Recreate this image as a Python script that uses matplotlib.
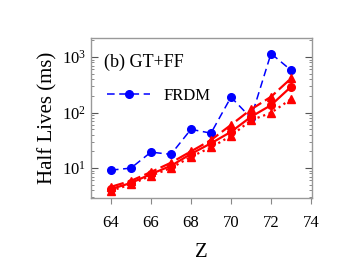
import matplotlib
matplotlib.use("Agg")
import matplotlib.pyplot as plt
from matplotlib.ticker import LogLocator, NullFormatter

plt.rcParams['font.family'] = ['Liberation Serif', 'DejaVu Serif']
plt.rcParams['mathtext.fontset'] = 'custom'
plt.rcParams['mathtext.rm'] = 'Liberation Serif'
plt.rcParams['mathtext.it'] = 'Liberation Serif:italic'

Z = [64, 65, 66, 67, 68, 69, 70, 71, 72, 73]
frdm = [9.2, 10.0, 19.4, 17.7, 50, 42.6, 190, 80, 1160, 580]
red_dashed_tri = [4.6, 5.9, 8.5, 12.5, 20, 32, 60, 114, 193, 413]
red_solid_circ = [4.2, 5.4, 7.8, 11.0, 18, 28, 45, 84, 136, 292]
red_dotted_tri = [3.9, 5.1, 7.3, 10.0, 16, 23.6, 38, 73, 99, 175]

fig = plt.figure(figsize=(3.55, 2.8), dpi=100)
ax = fig.add_axes([0.256, 0.293, 0.623, 0.571])

ax.plot(Z, frdm, color='#0000ff', ls=(0, (5, 3)), lw=1.1, marker='o', ms=5.5, label='FRDM')
ax.plot(Z, red_dashed_tri, color='#ff0000', ls=(0, (6, 2)), lw=1.6, marker='^', ms=5.5)
ax.plot(Z, red_solid_circ, color='#ff0000', ls='-', lw=1.6, marker='o', ms=5.5)
ax.plot(Z, red_dotted_tri, color='#ff0000', ls=':', lw=1.6, marker='^', ms=5.5)

ax.set_yscale('log')
ax.set_xlim(63, 74.05)
ax.set_ylim(2.9, 2200)
ax.set_xticks([64, 66, 68, 70, 72, 74])
ax.yaxis.set_major_locator(LogLocator(base=10, numticks=10))
ax.yaxis.set_minor_locator(LogLocator(base=10, subs=range(2, 10), numticks=10))
ax.yaxis.set_minor_formatter(NullFormatter())

for s in ax.spines.values():
    s.set_color('#999999')
    s.set_linewidth(1.0)

ax.tick_params(axis='x', which='both', direction='out', top=False, labelsize=12, color='#888888', length=4, pad=8)
ax.tick_params(axis='y', which='major', direction='in', left=True, right=True, labelsize=12, color='#555555', length=5)
ax.tick_params(axis='y', which='minor', direction='in', left=True, right=True, color='#777777', length=2.5)

ax.set_xlabel('Z', fontsize=15, labelpad=9)
ax.set_ylabel('Half Lives (ms)', fontsize=15, labelpad=3)

ax.text(0.06, 0.85, '(b) GT+FF', transform=ax.transAxes, fontsize=13, va='center', ha='left')
leg = ax.legend(loc='upper left', bbox_to_anchor=(0.02, 0.76), frameon=False, fontsize=12,
                handlelength=2.6, handletextpad=0.8, borderaxespad=0.3)

fig.savefig('out.png', dpi=100)
